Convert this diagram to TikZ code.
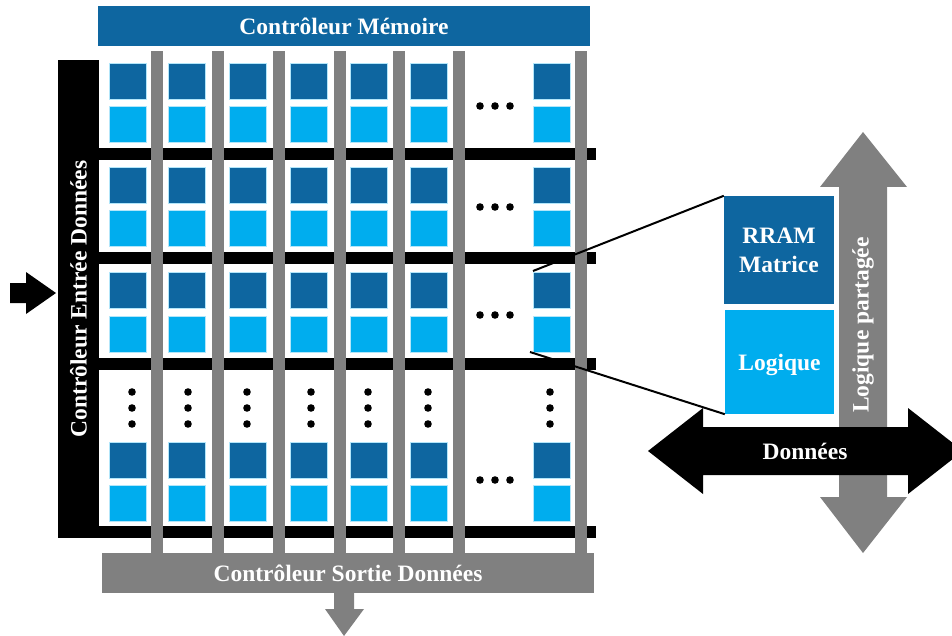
\documentclass[tikz,border=0pt]{standalone}
\usepackage{fontspec}
\setmainfont{Liberation Serif}

\definecolor{memblue}{RGB}{14,102,160}
\definecolor{logblue}{RGB}{0,173,238}
\definecolor{busgray}{RGB}{128,128,128}

\tikzset{
  lbl/.style={text=white, font=\fontsize{23.5}{29}\selectfont\bfseries, inner sep=0pt},
  rramcell/.style={fill=memblue, draw=white!70!logblue, line width=0.8pt},
  logcell/.style={fill=logblue, draw=white!70!logblue, line width=0.8pt},
  ctrlbox/.style={lbl, minimum width=492pt, minimum height=40pt},
}

\begin{document}
\begin{tikzpicture}[x=1pt, y=-1pt]

  \useasboundingbox (0,0) rectangle (952,636);

  % --- 1. contrôleurs autour de la grille ---
  \node[ctrlbox, fill=memblue] (memctrl) at (344,26) {Contrôleur Mémoire};
  \node[fill=black, minimum width=41pt, minimum height=478pt, inner sep=0pt] (inctrl) at (78.5,299) {};
  \node[lbl, rotate=90] at (inctrl) {Contrôleur Entrée Données};

  % flèche d'entrée
  \fill (10,283) -- (26,283) -- (26,272) -- (56,293) -- (26,314) -- (26,303) -- (10,303) -- cycle;

  % --- 2. lignes (noir) et colonnes (gris) ---
  \foreach \y in {148,252,358,526}
    \fill (99,\y) rectangle (596,\y+12);
  \foreach \x in {151,212,273,334,393,453,575}
    \fill[busgray] (\x,51) rectangle (\x+12,553);

  % --- 3. cellules RRAM / logique ---
  \foreach \x in {109,168,229,290,350,410,533}
    \foreach \yd/\yl in {63/106,167/210,272/316,442/485} {
      \draw[rramcell] (\x,\yd) rectangle +(37,36);
      \draw[logcell] (\x,\yl) rectangle +(37,36);
    }

  % points de suspension
  \foreach \y in {106,207,315,480}
    \foreach \x in {480,495,510}
      \fill (\x,\y) circle (3.8pt);
  \foreach \x in {132,188,247,311,368,428,550}
    \foreach \y in {392,408,424}
      \fill (\x,\y) circle (3.8pt);

  % --- 4. sortie ---
  \node[ctrlbox, fill=busgray] (outctrl) at (348,573) {Contrôleur Sortie Données};
  \fill[busgray] (334,593) -- (354,593) -- (354,609) -- (364,609) -- (344,636)
    -- (325,609) -- (334,609) -- cycle;

  % --- 5. détail d'une tuile ---
  \fill[busgray] (863,132) -- (907,187) -- (887,187) -- (887,497) -- (907,497) -- (863,553)
    -- (820,497) -- (839,497) -- (839,187) -- (820,187) -- cycle;
  \node[lbl, rotate=90] (shared) at (863,325) {Logique partagée};

  \fill (648,451) -- (703,408) -- (703,427) -- (908,427) -- (908,408) -- (952,442.4)
    -- (952,459.6) -- (908,494) -- (908,475) -- (703,475) -- (703,494) -- cycle;
  \node[lbl] (data) at (805,451) {Données};

  \node[lbl, fill=memblue, minimum width=110pt, minimum height=108pt, align=center] (rram) at (779,250) {RRAM\\Matrice};
  \node[lbl, fill=logblue, minimum width=109pt, minimum height=104pt, text depth=0pt] (logic) at (779.5,362) {Logique};

  % lignes de zoom
  \coordinate (zoomTop) at (533,271);
  \coordinate (zoomBot) at (530,352);
  \draw[line width=2pt] (zoomTop) -- (rram.north west);
  \draw[line width=2pt] (zoomBot) -- (logic.south west);

\end{tikzpicture}
\end{document}
